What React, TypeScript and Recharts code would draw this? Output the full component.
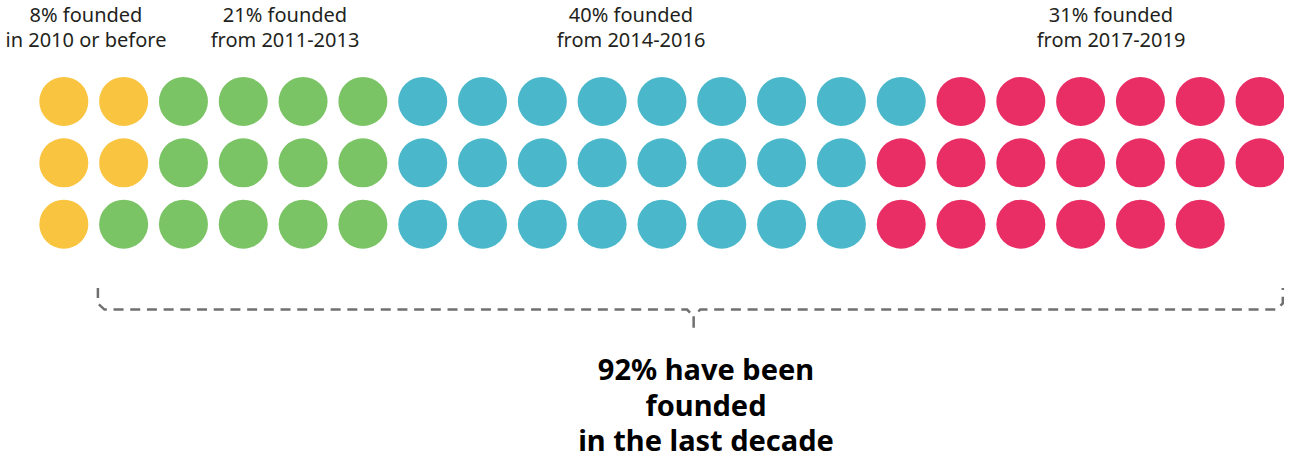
import React from 'react';
import { ScatterChart, Scatter, XAxis, YAxis } from 'recharts';

// founding periods, one dot per ~1.6%
const periodTop = ['8% founded', '21% founded', '40% founded', '31% founded'];
const periodBottom = ['in 2010 or before', 'from 2011-2013', 'from 2014-2016', 'from 2017-2019'];
const periodColors = ['#F9C440', '#7BC465', '#4AB8CA', '#E92E66'];

// dots per period in each of the three rows
const row1 = [2, 4, 9, 6];
const row2 = [2, 4, 8, 7];
const row3 = [1, 5, 8, 6];
const rows = [row1, row2, row3];

// brace under the last three periods (column / row units)
const braceX = [0.57, 0.57, 0.68, 10.42, 10.53, 10.53, 10.53, 10.64, 20.27, 20.38, 20.38];
const braceY = [3.04, 3.29, 3.39, 3.39, 3.5, 3.73, 3.5, 3.39, 3.39, 3.29, 3.04];

const headline = ['92% have been', 'founded', 'in the last decade'];

type Dot = { x: number; y: number };

const dotsByPeriod: Dot[][] = periodColors.map(() => []);
rows.forEach((counts, r) => {
  let col = 0;
  counts.forEach((n, p) => {
    for (let i = 0; i < n; i++) {
      dotsByPeriod[p].push({ x: col, y: r });
      col++;
    }
  });
});

const braceData = braceX.map((x, i) => ({ x, y: braceY[i] }));

const labelCenters = [86, 285, 631, 1111];

export default function App() {
  return (
    <div style={{ position: 'absolute', left: 0, top: 0, width: 1289, height: 462, background: '#fff' }}>
      <ScatterChart width={1289} height={462} margin={{ top: 40, right: 5, bottom: 115, left: 4 }}>
        <XAxis type="number" dataKey="x" domain={[-1, 20.4]} allowDataOverflow hide />
        <YAxis type="number" dataKey="y" domain={[-1, 4]} allowDataOverflow reversed hide />
        {dotsByPeriod.map((dots, p) => (
          <Scatter
            key={p}
            data={dots}
            isAnimationActive={false}
            shape={(props: any) => <circle cx={props.cx} cy={props.cy} r={24.5} fill={periodColors[p]} />}
          />
        ))}
        <Scatter
          data={braceData}
          isAnimationActive={false}
          line={{ stroke: '#707070', strokeWidth: 2.5, strokeDasharray: '10 6.7', fill: 'none' }}
          lineJointType="linear"
          shape={() => <g />}
        />
      </ScatterChart>

      {periodTop.map((t, i) => (
        <div
          key={t}
          style={{
            position: 'absolute',
            left: labelCenters[i] - 150,
            width: 300,
            top: 2.4,
            textAlign: 'center',
            fontFamily: '"Noto Sans", sans-serif',
            fontSize: 20,
            lineHeight: '25px',
            color: '#231f20',
          }}
        >
          <div>{t}</div>
          <div>{periodBottom[i]}</div>
        </div>
      ))}

      <div
        style={{
          position: 'absolute',
          left: 706 - 300,
          width: 600,
          top: 351,
          textAlign: 'center',
          fontFamily: '"Noto Sans", sans-serif',
          fontWeight: 700,
          fontSize: 29,
          lineHeight: '35.5px',
          color: '#000',
        }}
      >
        {headline.map((h) => (
          <div key={h}>{h}</div>
        ))}
      </div>
    </div>
  );
}
